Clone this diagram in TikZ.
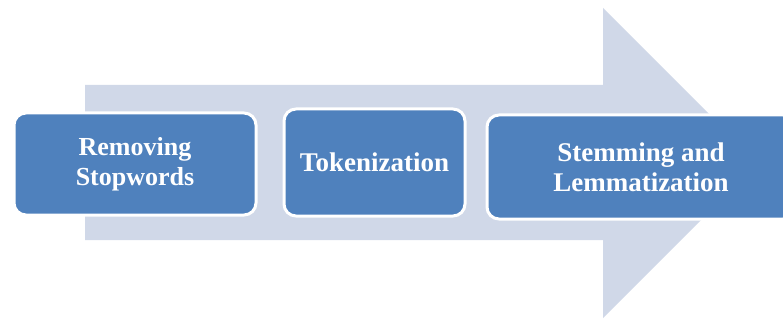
\documentclass[tikz,border=0pt]{standalone}
\usepackage{fontspec}
\setmainfont{Liberation Serif}
\definecolor{flowback}{HTML}{D0D8E8}
\definecolor{stagefill}{HTML}{4F81BD}
\tikzset{
  stage/.style={rectangle, rounded corners=12pt, fill=stagefill, draw=white,
    line width=3pt, text=white, align=center, inner sep=0pt,
    font=\bfseries\fontsize{27}{30}\selectfont},
}
\begin{document}
\begin{tikzpicture}[x=1pt,y=-1pt]
\clip (0,0) rectangle (783,320);
\fill[white] (0,0) rectangle (783,320);
% big arrow behind the stages
\fill[flowback] (85,85) -- (603,85) -- (603,8) -- (758,163) -- (603,318)
  -- (603,240) -- (85,240) -- cycle;
\node[stage, minimum width=242pt, minimum height=102pt,
  font=\bfseries\fontsize{26}{30}\selectfont] (remove) at (135,164)
  {Removing\\Stopwords};
\node[stage, minimum width=181pt, minimum height=107pt] (token) at (374.5,162.5)
  {Tokenization};
\node[stage, minimum width=308pt, minimum height=104pt] (stem) at (641,167)
  {Stemming and\\Lemmatization};
\end{tikzpicture}
\end{document}
